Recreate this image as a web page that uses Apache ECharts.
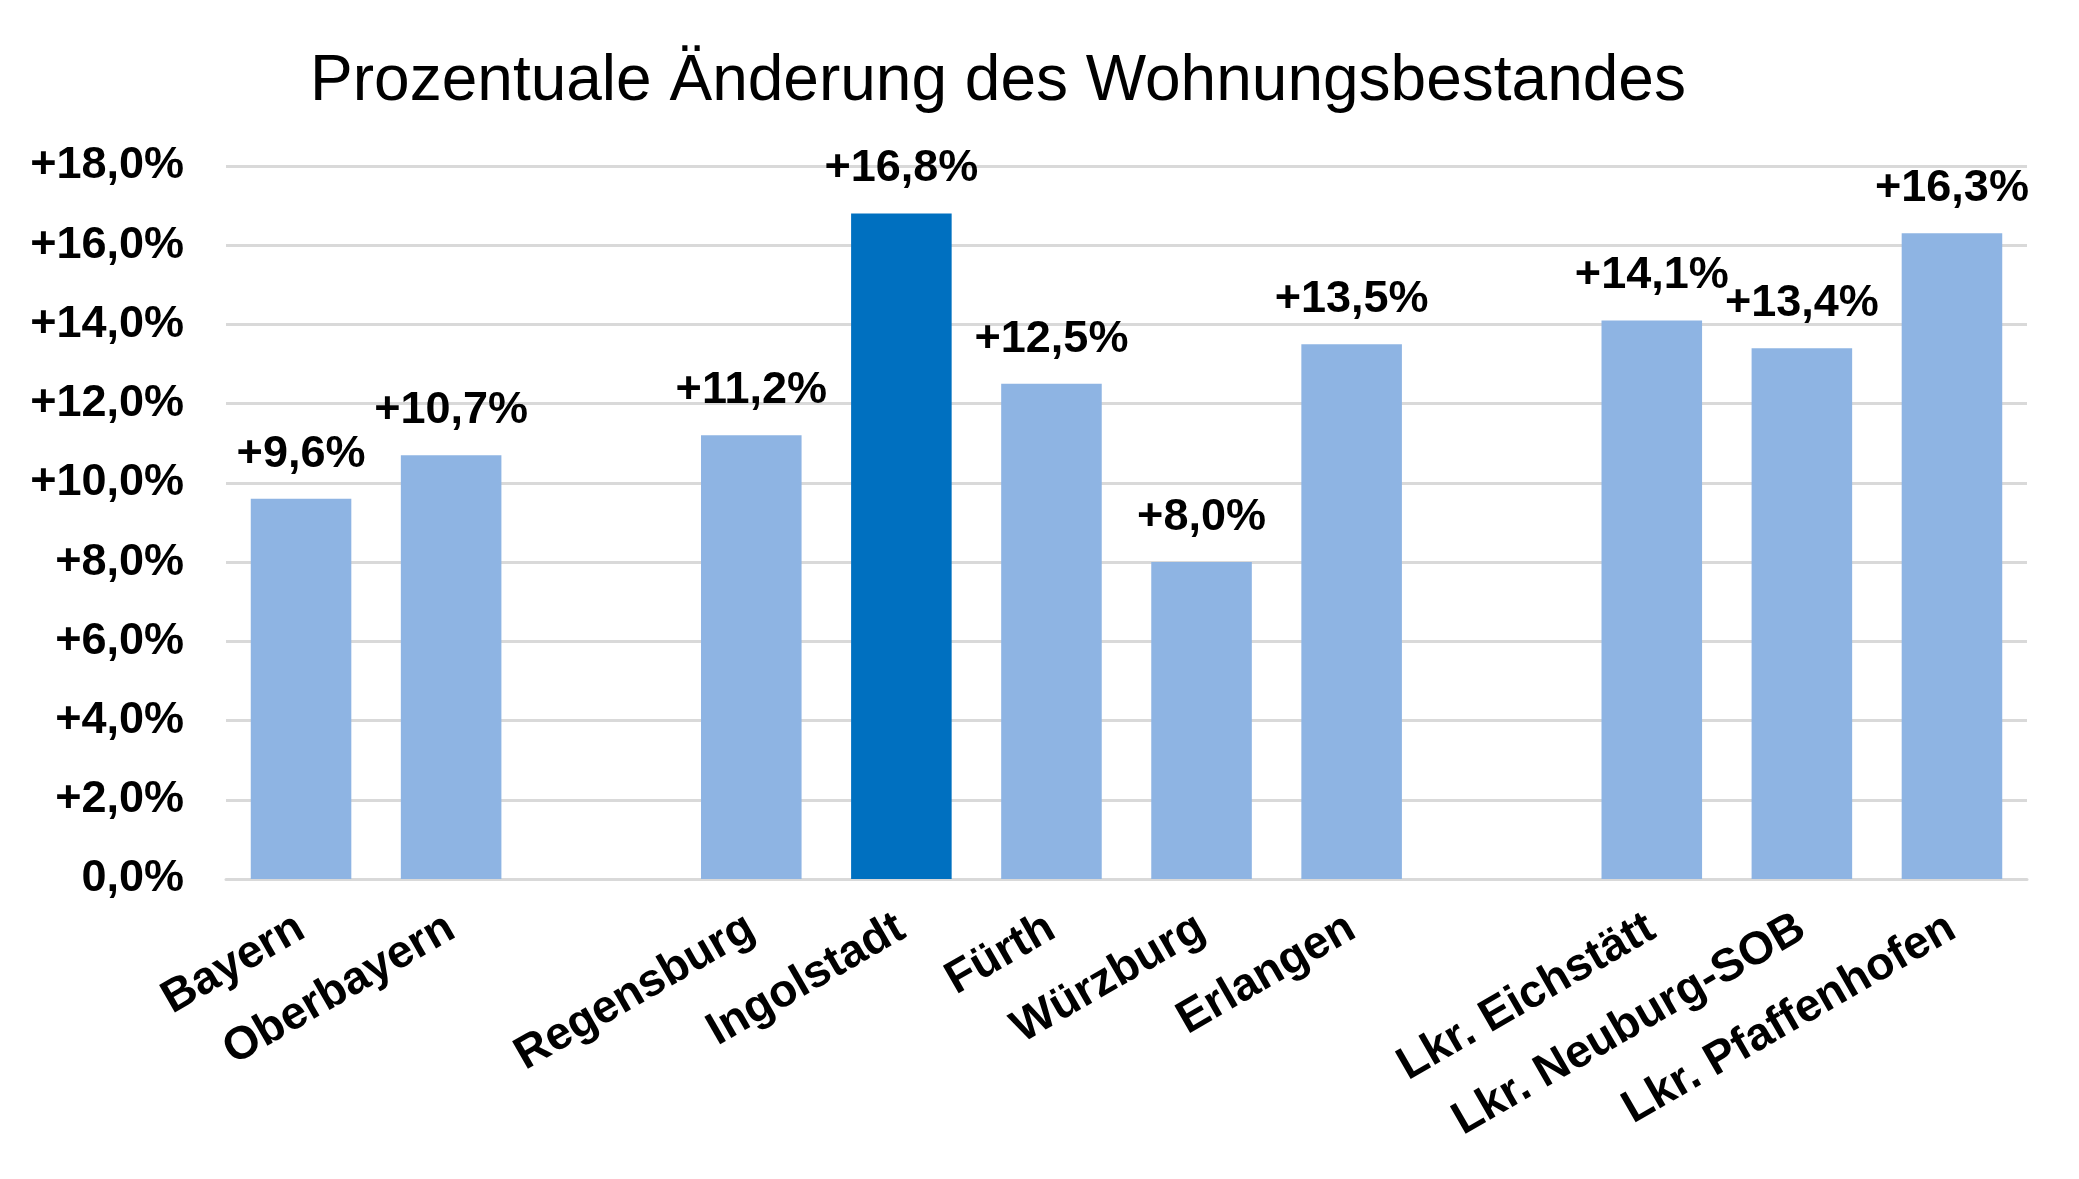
<!DOCTYPE html>
<html>
<head>
<meta charset="utf-8">
<title>Prozentuale Änderung des Wohnungsbestandes</title>
<script src="https://cdn.jsdelivr.net/npm/echarts@6/dist/echarts.min.js"></script>
<style>
  html, body { margin: 0; padding: 0; background: #fff; }
  #chart { width: 2079px; height: 1179px; }
</style>
</head>
<body>
<div id="chart"></div>
<script>
// Regionen (leere Einträge = Abstand zwischen den Gruppen)
var regionen = ['Bayern', 'Oberbayern', '', 'Regensburg', 'Ingolstadt', 'Fürth', 'Würzburg', 'Erlangen', '', 'Lkr. Eichstätt', 'Lkr. Neuburg-SOB', 'Lkr. Pfaffenhofen'];
// Änderung in Prozent
var aenderung = [9.6, 10.7, null, 11.2, 16.8, 12.5, 8.0, 13.5, null, 14.1, 13.4, 16.3];
// hervorgehobene Region
var hervorgehoben = 'Ingolstadt';

var FARBE_HELL = '#8EB4E3';
var FARBE_DUNKEL = '#0070C0';

function prozent(v) {
    var s = v.toFixed(1).replace('.', ',') + '%';
    return v > 0 ? '+' + s : s;
}

var chart = echarts.init(document.getElementById('chart'));

var balken = regionen.map(function (name, i) {
    if (aenderung[i] == null) return '-';
    return {
        value: aenderung[i],
        itemStyle: { color: name === hervorgehoben ? FARBE_DUNKEL : FARBE_HELL }
    };
});

var option = {
    backgroundColor: '#fff',
    animation: false,
    textStyle: { fontFamily: 'Liberation Sans, Arial, sans-serif' },
    title: {
        text: 'Prozentuale Änderung des Wohnungsbestandes',
        left: 993,
        textAlign: 'center',
        top: 45,
        textStyle: {
            fontFamily: 'Liberation Sans, Arial, sans-serif',
            fontSize: 64,
            fontWeight: 'normal',
            color: '#000'
        }
    },
    grid: {
        left: 226,
        right: 52,
        top: 166,
        bottom: 300,
        containLabel: false
    },
    xAxis: {
        type: 'category',
        data: regionen,
        axisLine: { show: true, lineStyle: { color: '#D9D9D9', width: 3 } },
        axisTick: { show: false },
        axisLabel: {
            interval: 0,
            rotate: 30,
            margin: 46,
            fontSize: 46,
            fontWeight: 'bold',
            color: '#000',
            fontFamily: 'Liberation Sans, Arial, sans-serif'
        }
    },
    yAxis: {
        type: 'value',
        min: 0,
        max: 18,
        interval: 2,
        axisLine: { show: false },
        axisTick: { show: false },
        splitLine: { lineStyle: { color: '#D9D9D9', width: 3 } },
        axisLabel: {
            margin: 42,
            fontSize: 45,
            fontWeight: 'bold',
            color: '#000',
            fontFamily: 'Liberation Sans, Arial, sans-serif',
            formatter: function (v) { return prozent(v); }
        }
    },
    series: [{
        type: 'bar',
        data: balken,
        barCategoryGap: '33%',
        label: {
            show: true,
            position: 'top',
            distance: 22,
            fontSize: 45,
            fontWeight: 'bold',
            color: '#000',
            fontFamily: 'Liberation Sans, Arial, sans-serif',
            formatter: function (p) { return prozent(p.value); }
        }
    }]
};

chart.setOption(option);
</script>
</body>
</html>
